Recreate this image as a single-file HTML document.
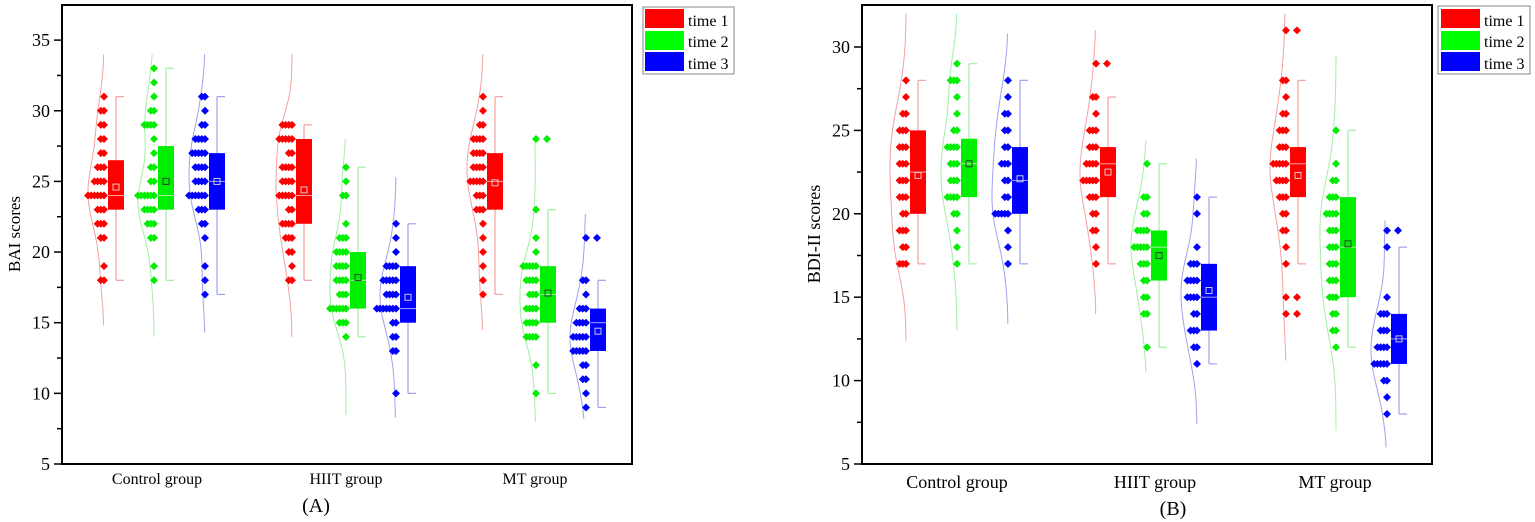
<!DOCTYPE html>
<html><head><meta charset="utf-8">
<style>
html,body{margin:0;padding:0;background:#fff;}
svg{display:block;font-family:"Liberation Serif","Times New Roman",serif;}
</style></head>
<body>
<svg id="s" width="1535" height="522" viewBox="0 0 1535 522" xmlns="http://www.w3.org/2000/svg">
<rect width="1535" height="522" fill="#fff"/>
<rect x="62" y="5" width="570" height="459" fill="none" stroke="#000" stroke-width="2"/>
<rect x="862" y="5" width="570" height="459" fill="none" stroke="#000" stroke-width="2"/>
<g id="g"></g>
<rect x="643" y="7" width="91" height="67" fill="#fff" stroke="#888" stroke-width="1"/>
<rect x="645" y="9" width="39" height="19" fill="#f00"/>
<rect x="645" y="31" width="39" height="19" fill="#0f0"/>
<rect x="645" y="52" width="39" height="19" fill="#00f"/>
<text x="688" y="26" font-size="16">time 1</text>
<text x="688" y="47" font-size="16">time 2</text>
<text x="688" y="69" font-size="16">time 3</text>
<rect x="1438" y="6" width="92" height="68" fill="#fff" stroke="#888" stroke-width="1"/>
<rect x="1441" y="9" width="39" height="19" fill="#f00"/>
<rect x="1441" y="31" width="39" height="19" fill="#0f0"/>
<rect x="1441" y="52" width="39" height="19" fill="#00f"/>
<text x="1484" y="26" font-size="16">time 1</text>
<text x="1484" y="47" font-size="16">time 2</text>
<text x="1484" y="69" font-size="16">time 3</text>
<text x="157" y="484" font-size="16" text-anchor="middle">Control group</text>
<text x="346" y="484" font-size="16" text-anchor="middle">HIIT group</text>
<text x="535" y="484" font-size="16" text-anchor="middle">MT group</text>
<text x="316" y="512" font-size="20" text-anchor="middle">(A)</text>
<text x="957" y="488" font-size="18" text-anchor="middle">Control group</text>
<text x="1155" y="488" font-size="18" text-anchor="middle">HIIT group</text>
<text x="1335" y="488" font-size="18" text-anchor="middle">MT group</text>
<text x="1173" y="515" font-size="20" text-anchor="middle">(B)</text>
<text transform="translate(20,234) rotate(-90)" font-size="17" text-anchor="middle">BAI scores</text>
<text transform="translate(820,234) rotate(-90)" font-size="18" text-anchor="middle">BDI-II scores</text>
</svg>
<script>
var g=document.getElementById('g');var h='';
var C=['#ff0000','#00ee00','#0000ff'],L=['#f5a0a0','#a0f0a0','#a0a0f0'];
function ax(x0,yb,k,v0,vmax,step,fs){
  for(var v=v0;v<=vmax+0.01;v+=step/2){var y=yb-(v-v0)*k;var maj=Math.abs(v/step-Math.round(v/step))<0.01;
    h+='<line x1="'+(x0-(maj?8:5))+'" y1="'+y+'" x2="'+x0+'" y2="'+y+'" stroke="#000" stroke-width="1.5"/>';
    if(maj)h+='<text x="'+(x0-12)+'" y="'+(y+6)+'" font-size="'+fs+'" text-anchor="end">'+v+'</text>';}
}
ax(62,464,14.13,5,35,5,18);
ax(862,464,16.68,5,30,5,18);
function ser(x0,yf,c,d){
  var col=C[c],lc=L[c];
  var vals=[];for(var v in d.dots){for(var i=0;i<d.dots[v];i++)vals.push(+v);}
  var n=vals.length,bw=1.6,pts=[],mx=0,arr=[];
  for(var t=d.vr[0];t<=d.vr[1]+0.001;t+=(d.vr[1]-d.vr[0])/60){var s=0;for(var j=0;j<n;j++){var z=(t-vals[j])/bw;s+=Math.exp(-z*z/2);}arr.push([t,s]);if(s>mx)mx=s;}
  arr.forEach(function(a){pts.push((x0-a[1]/mx*16).toFixed(1)+','+yf(a[0]).toFixed(1));});
  h+='<polyline points="'+pts.join(' ')+'" fill="none" stroke="'+lc+'" stroke-width="1"/>';
  var cx=x0+12;
  h+='<line x1="'+cx+'" y1="'+yf(d.w[0])+'" x2="'+cx+'" y2="'+yf(d.w[1])+'" stroke="'+lc+'" stroke-width="1.2"/>';
  h+='<line x1="'+cx+'" y1="'+yf(d.w[0])+'" x2="'+(cx+8)+'" y2="'+yf(d.w[0])+'" stroke="'+lc+'" stroke-width="1.2"/>';
  h+='<line x1="'+cx+'" y1="'+yf(d.w[1])+'" x2="'+(cx+8)+'" y2="'+yf(d.w[1])+'" stroke="'+lc+'" stroke-width="1.2"/>';
  var y1=yf(d.b[1]),y2=yf(d.b[0]);
  h+='<rect x="'+(x0+4)+'" y="'+y1+'" width="16" height="'+(y2-y1)+'" fill="'+col+'"/>';
  h+='<line x1="'+(x0+4)+'" y1="'+yf(d.m)+'" x2="'+(x0+20)+'" y2="'+yf(d.m)+'" stroke="'+lc+'" stroke-width="1"/>';
  h+='<rect x="'+(cx-3)+'" y="'+(yf(d.mean)-3)+'" width="6" height="6" fill="none" stroke="'+(c==1?'#333':'#ddd')+'" stroke-width="0.9"/>';
  for(var v in d.dots){var y=yf(+v);for(var i=0;i<d.dots[v];i++){var x=x0-i*3.2;
    h+='<polygon points="'+x+','+(y-4)+' '+(x+4)+','+y+' '+x+','+(y+4)+' '+(x-4)+','+y+'" fill="'+col+'"/>';}}
  (d.o||[]).forEach(function(v){var y=yf(v),x=x0+11;h+='<polygon points="'+x+','+(y-4)+' '+(x+4)+','+y+' '+x+','+(y+4)+' '+(x-4)+','+y+'" fill="'+col+'"/>';});
}
var A=function(v){return 464-(v-5)*14.13;},B=function(v){return 464-(v-5)*16.68;};
var LA=[
[104,0,{b:[23,26.5],m:24,mean:24.6,w:[18,31],vr:[14.8,34],dots:{31:1,30:2,29:2,28:2,27:2,26:3,25:4,24:6,23:3,22:3,21:2,19:1,18:2}}],
[154,1,{b:[23,27.5],m:24,mean:25,w:[18,33],vr:[14,34],dots:{33:1,32:1,31:1,30:2,29:4,28:1,27:1,26:2,25:2,24:6,23:4,22:3,21:2,19:1,18:1}}],
[205,2,{b:[23,27],m:25,mean:25,w:[17,31],vr:[14.3,34],dots:{31:2,30:1,29:2,28:4,27:5,26:4,25:4,24:6,23:3,22:2,21:1,19:1,18:1,17:1}}],
[292,0,{b:[22,28],m:24,mean:24.4,w:[18,29],vr:[14,34],dots:{29:4,28:5,27:2,26:4,25:4,24:5,23:2,22:4,21:3,20:2,19:1,18:2}}],
[346,1,{b:[16,20],m:18,mean:18.2,w:[14,26],vr:[8.5,28],dots:{26:1,25:1,24:2,22:1,21:3,20:4,19:4,18:4,17:3,16:6,15:3,14:1}}],
[396,2,{b:[15,19],m:16,mean:16.8,w:[10,22],vr:[8.3,25.3],dots:{22:1,21:1,20:1,19:4,18:5,17:4,16:7,15:2,14:2,13:2,10:1}}],
[483,0,{b:[23,27],m:25,mean:24.9,w:[17,31],vr:[14.5,34],dots:{31:1,30:1,29:2,28:4,27:4,26:4,25:5,24:3,23:3,22:1,21:1,20:1,19:1,18:1,17:1}}],
[536,1,{b:[15,19],m:17,mean:17.1,w:[10,23],vr:[8,28],o:[28],dots:{28:1,23:1,21:1,20:1,19:5,18:4,17:3,16:4,15:4,14:4,12:1,10:1}}],
[586,2,{b:[13,16],m:15,mean:14.4,w:[9,18],vr:[8.2,22.7],o:[21],dots:{21:1,18:2,17:1,16:3,15:4,14:5,13:5,12:2,11:2,10:1,9:1}}]
];
LA.forEach(function(s){ser(s[0],A,s[1],s[2]);});
var LB=[
[906,0,{b:[20,25],m:22.5,mean:22.3,w:[17,28],vr:[12.4,32],dots:{28:1,27:1,26:2,25:3,24:3,23:3,22:3,21:3,20:2,19:3,18:2,17:3}}],
[957,1,{b:[21,24.5],m:23,mean:23,w:[17,29],vr:[13,32],dots:{29:1,28:3,27:1,26:1,25:2,24:4,23:3,22:3,21:4,20:2,19:1,18:1,17:1}}],
[1008,2,{b:[20,24],m:22,mean:22.1,w:[17,28],vr:[13.4,30.8],dots:{28:1,27:1,26:2,25:2,24:2,23:3,22:2,21:2,20:5,19:1,18:1,17:1}}],
[1096,0,{b:[21,24],m:23,mean:22.5,w:[17,27],vr:[14,31],o:[29],dots:{29:1,27:2,26:1,25:3,24:3,23:4,22:5,21:3,20:2,19:2,18:1,17:1}}],
[1147,1,{b:[16,19],m:18,mean:17.5,w:[12,23],vr:[10.5,24.4],dots:{23:1,21:2,20:2,19:4,18:5,17:3,16:2,15:2,14:2,12:1}}],
[1197,2,{b:[13,17],m:15,mean:15.4,w:[11,21],vr:[7.4,23.3],dots:{21:1,20:1,18:1,17:3,16:4,15:4,14:2,13:3,12:2,11:1}}],
[1286,0,{b:[21,24],m:23,mean:22.3,w:[17,28],vr:[11.2,32],o:[31,15,14],dots:{31:1,28:2,27:1,26:2,25:3,24:3,23:5,22:4,21:3,20:2,19:2,18:1,17:1,15:1,14:1}}],
[1336,1,{b:[15,21],m:18,mean:18.2,w:[12,25],vr:[7,29.5],dots:{25:1,23:1,22:2,21:3,20:4,19:3,18:3,17:3,16:3,15:3,14:2,13:2,12:1}}],
[1387,2,{b:[11,14],m:12.5,mean:12.5,w:[8,18],vr:[6,19.6],o:[19],dots:{19:1,18:1,15:1,14:3,13:3,12:4,11:5,10:2,9:1,8:1}}]
];
LB.forEach(function(s){ser(s[0],B,s[1],s[2]);});
g.innerHTML=h;
</script>
</body></html>
